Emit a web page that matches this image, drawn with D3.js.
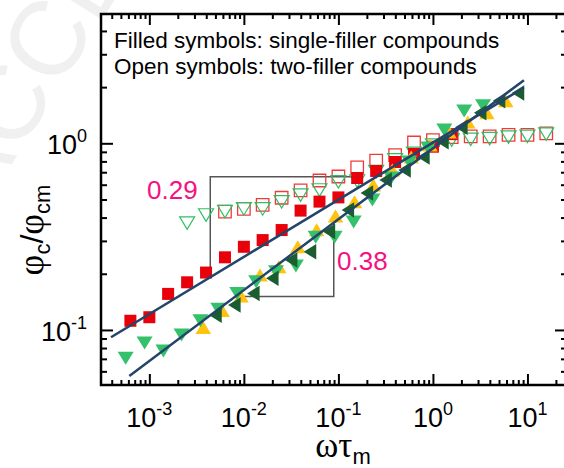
<!DOCTYPE html>
<html>
<head>
<meta charset="utf-8">
<script src="https://cdn.jsdelivr.net/npm/d3@7"></script>
<style>
  body { margin: 0; background: #fff; }
  svg { display: block; font-family: "Liberation Sans", Arial, sans-serif; }
</style>
</head>
<body>
<svg id="chart"></svg>
<script>
// chart frame (pixels)
const width = 564, height = 468;
const marginLeft = 101, marginRight = 567, marginTop = 14, marginBottom = 385;

// single-filler compounds (filled symbols)
const redX = [6.3e-4, 1e-3, 1.58e-3, 2.51e-3, 3.98e-3, 6.31e-3, 0.01, 0.0158, 0.0251, 0.0398, 0.0631, 0.1, 0.158, 0.251, 0.398, 0.631, 1.0, 1.58];
const redY = [0.112, 0.117, 0.156, 0.180, 0.203, 0.245, 0.279, 0.303, 0.343, 0.436, 0.487, 0.513, 0.652, 0.711, 0.794, 0.877, 0.959, 1.12];

const yellowX = [3.72e-3, 5.89e-3, 9.33e-3, 0.0148, 0.0234, 0.0372, 0.0589, 0.0933, 0.148, 0.234, 0.372, 0.589, 0.933, 1.48, 2.34, 3.72, 5.89];
const yellowY = [0.103, 0.127, 0.152, 0.197, 0.218, 0.279, 0.344, 0.408, 0.486, 0.598, 0.719, 0.845, 0.979, 1.15, 1.30, 1.46, 1.69];

const greenX = [5.62e-4, 8.91e-4, 1.41e-3, 2.19e-3, 3.47e-3, 5.37e-3, 8.51e-3, 0.0135, 0.0219, 0.0355, 0.0575, 0.0912, 0.145, 0.229, 0.363, 0.562, 0.891, 1.32, 2.14, 3.39];
const greenY = [0.0705, 0.0851, 0.0772, 0.094, 0.112, 0.129, 0.157, 0.181, 0.205, 0.220, 0.314, 0.314, 0.379, 0.497, 0.652, 0.794, 0.944, 1.18, 1.49, 1.59];

const darkX = [5.01e-3, 7.94e-3, 0.0126, 0.02, 0.0316, 0.0501, 0.0794, 0.126, 0.2, 0.316, 0.501, 0.794, 1.26, 2.0, 3.16, 5.01, 7.94];
const darkY = [0.120, 0.136, 0.157, 0.189, 0.237, 0.262, 0.337, 0.439, 0.542, 0.635, 0.719, 0.845, 1.02, 1.22, 1.46, 1.69, 1.86];

// two-filler compounds (open symbols)
const openSqX = [6.31e-3, 0.01, 0.0158, 0.0251, 0.0398, 0.0631, 0.1, 0.158, 0.251, 0.398, 0.631, 1.0, 1.58, 2.51, 3.98, 6.31, 10, 15.8];
const openSqY = [0.431, 0.445, 0.468, 0.511, 0.559, 0.632, 0.664, 0.743, 0.807, 0.865, 1.01, 1.04, 1.08, 1.09, 1.09, 1.11, 1.11, 1.13];

const openTriX = [2.51e-3, 3.98e-3, 6.31e-3, 0.01, 0.0158, 0.0251, 0.0398, 0.0631, 0.1, 0.158, 0.251, 0.398, 0.631, 1.0, 1.58, 2.51, 3.98, 6.31, 10, 15.8];
const openTriY = [0.374, 0.413, 0.431, 0.445, 0.445, 0.486, 0.528, 0.562, 0.622, 0.628, 0.705, 0.815, 0.883, 0.979, 1.04, 1.05, 1.06, 1.08, 1.09, 1.12];

// power-law fits and slope triangles
const fitUpperX = [3.93e-4, 9.18], fitUpperY = [0.0914, 1.99];
const fitLowerX = [6.14e-4, 9.18], fitLowerY = [0.0567, 2.18];
const slopeAX = [4.41e-3, 4.41e-3, 0.179], slopeAY = [0.19, 0.662, 0.662];
const slopeBX = [8.07e-3, 0.0893, 0.0893], slopeBY = [0.151, 0.151, 0.376];

// axis ticks
const xMajor = [1e-3, 1e-2, 1e-1, 1, 10];
const xExp = ["-3", "-2", "-1", "0", "1"];
const yMajor = [0.1, 1];
const yExp = ["-1", "0"];

const x = d3.scaleLog([3.08e-4, 26.2], [marginLeft, marginRight]);
const y = d3.scaleLog([0.0507, 4.93], [marginBottom, marginTop]);

const svg = d3.select("#chart")
  .attr("width", width)
  .attr("height", height)
  .attr("viewBox", [0, 0, width, height]);

// faint watermark in the corner
svg.append("text")
  .attr("transform", "translate(-20,215) rotate(-58)")
  .attr("font-size", 105)
  .attr("fill", "#f0f0f0")
  .text("ACCEPTED");
svg.append("rect").attr("x", marginLeft).attr("y", marginTop)
  .attr("width", width).attr("height", height).attr("fill", "#fff");

// axes: minor and major ticks, all pointing inward
const xMinor = x.ticks().filter(v => !xMajor.includes(v));
const yMinor = y.ticks().filter(v => !yMajor.some(m => Math.abs(m - v) < 1e-9));

function ticks(axisGen, scale, values, size, transform) {
  svg.append("g")
    .attr("transform", transform)
    .call(axisGen(scale).tickValues(values).tickSize(size).tickFormat(""))
    .call(g => g.select(".domain").remove())
    .call(g => g.selectAll(".tick line").attr("stroke", "#000").attr("stroke-width", 2));
}
ticks(d3.axisBottom, x, xMinor, -5, `translate(0,${marginBottom})`);
ticks(d3.axisBottom, x, xMajor, -11, `translate(0,${marginBottom})`);
ticks(d3.axisTop, x, xMinor, -5, `translate(0,${marginTop})`);
ticks(d3.axisTop, x, xMajor, -11, `translate(0,${marginTop})`);
ticks(d3.axisLeft, y, yMinor, -6, `translate(${marginLeft},0)`);
ticks(d3.axisLeft, y, yMajor, -12, `translate(${marginLeft},0)`);
ticks(d3.axisRight, y, yMinor, -6, `translate(${marginRight},0)`);
ticks(d3.axisRight, y, yMajor, -12, `translate(${marginRight},0)`);

svg.append("rect")
  .attr("x", marginLeft).attr("y", marginTop)
  .attr("width", marginRight - marginLeft).attr("height", marginBottom - marginTop)
  .attr("fill", "none").attr("stroke", "#000").attr("stroke-width", 2.5);

// tick labels
xMajor.forEach((v, i) => {
  const t = svg.append("text")
    .attr("x", x(v)).attr("y", 427)
    .attr("text-anchor", "middle")
    .attr("font-size", 27).attr("fill", "#000");
  t.append("tspan").text("10");
  t.append("tspan").attr("dy", -12).attr("font-size", 18).text(xExp[i]);
});
yMajor.forEach((v, i) => {
  const t = svg.append("text")
    .attr("x", 87).attr("y", y(v) + 11)
    .attr("text-anchor", "end")
    .attr("font-size", 27).attr("fill", "#000");
  t.append("tspan").text("10");
  t.append("tspan").attr("dy", -12).attr("font-size", 18).text(yExp[i]);
});

// axis titles
const xt = svg.append("text")
  .attr("x", 343).attr("y", 457)
  .attr("text-anchor", "middle").attr("fill", "#000");
xt.append("tspan").attr("font-family", "Liberation Serif, serif").attr("font-size", 35).text("ωτ");
xt.append("tspan").attr("font-size", 22).attr("dy", 7).text("m");

const yt = svg.append("text")
  .attr("transform", "translate(43,230) rotate(-90)")
  .attr("text-anchor", "middle").attr("fill", "#000");
yt.append("tspan").attr("font-family", "Liberation Serif, serif").attr("font-size", 36).text("φ");
yt.append("tspan").attr("font-size", 22).attr("dy", 7).text("c");
yt.append("tspan").attr("font-size", 32).attr("dy", -7).text("/");
yt.append("tspan").attr("font-family", "Liberation Serif, serif").attr("font-size", 36).text("φ");
yt.append("tspan").attr("font-size", 22).attr("dy", 7).text("cm");

// legend note
svg.append("text").attr("x", 114).attr("y", 48).attr("font-size", 22.5).text("Filled symbols: single-filler compounds");
svg.append("text").attr("x", 114).attr("y", 74).attr("font-size", 22.5).text("Open symbols: two-filler compounds");

// slope triangles
const line = d3.line().x(d => x(d[0])).y(d => y(d[1]));
[[slopeAX, slopeAY], [slopeBX, slopeBY]].forEach(([xs, ys]) => {
  svg.append("path")
    .datum(d3.zip(xs, ys))
    .attr("fill", "none").attr("stroke", "#555").attr("stroke-width", 1.5)
    .attr("d", line);
});

// symbol shapes, centred on their bounding box
const square = s => `M${-s/2},${-s/2}h${s}v${s}h${-s}Z`;
const triDown = (w, h) => `M${-w/2},${-h/2}L${w/2},${-h/2}L0,${h/2}Z`;
const triUp = (w, h) => `M${-w/2},${h/2}L${w/2},${h/2}L0,${-h/2}Z`;
const triLeft = (w, h) => `M${w/2},${-h/2}L${w/2},${h/2}L${-w/2},0Z`;

function series(xs, ys, shape, fill, stroke, sw) {
  svg.append("g").selectAll("path")
    .data(d3.zip(xs, ys))
    .join("path")
    .attr("transform", d => `translate(${x(d[0])},${y(d[1])})`)
    .attr("d", shape)
    .attr("fill", fill)
    .attr("stroke", stroke)
    .attr("stroke-width", sw);
}

series(openSqX, openSqY, square(12.5), "none", "#f03a3a", 1.3);
series(openTriX, openTriY, triDown(15, 12.5), "none", "#2fbf62", 1.2);
series(redX, redY, square(12), "#e8000b", "none", 0);
series(yellowX, yellowY, triUp(15.5, 13), "#ffc20e", "none", 0);
series(greenX, greenY, triDown(16, 13), "#35c06b", "none", 0);
series(darkX, darkY, triLeft(12.5, 15.5), "#1b5c30", "none", 0);

// fit lines
[[fitUpperX, fitUpperY], [fitLowerX, fitLowerY]].forEach(([xs, ys]) => {
  svg.append("path")
    .datum(d3.zip(xs, ys))
    .attr("fill", "none").attr("stroke", "#23456b").attr("stroke-width", 2.5)
    .attr("d", line);
});

// slope labels
svg.append("text").attr("x", 147).attr("y", 199).attr("font-size", 26).attr("fill", "#f5117f").text("0.29");
svg.append("text").attr("x", 337).attr("y", 270).attr("font-size", 26).attr("fill", "#f5117f").text("0.38");
</script>
</body>
</html>
